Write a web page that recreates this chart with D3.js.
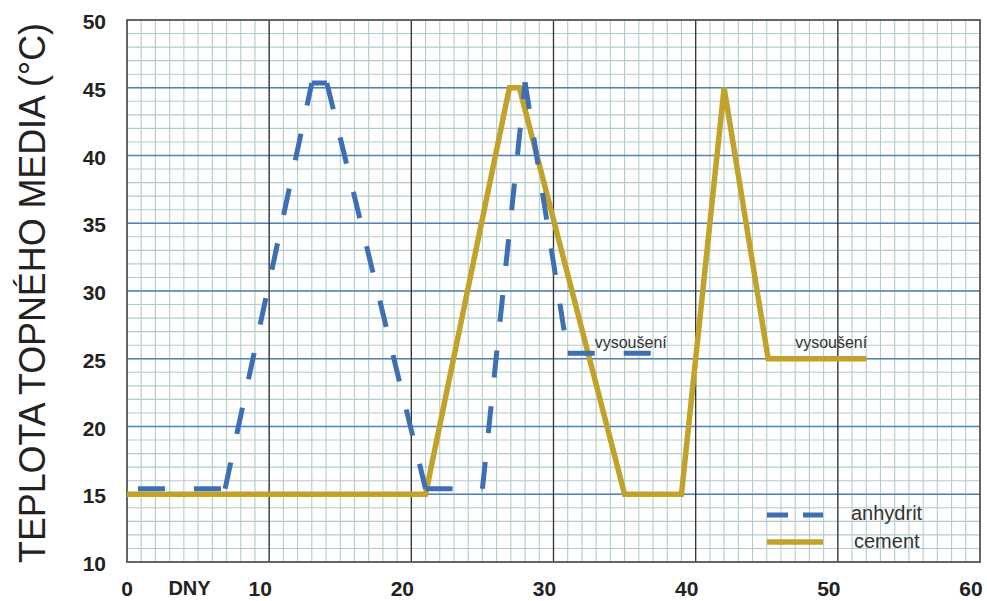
<!DOCTYPE html>
<html>
<head>
<meta charset="utf-8">
<script src="https://cdn.jsdelivr.net/npm/d3@7"></script>
<style>
  html, body { margin: 0; padding: 0; background: #fff; }
  svg { display: block; font-family: "Liberation Sans", Arial, sans-serif; }
</style>
</head>
<body>
<svg id="chart" width="987" height="601"></svg>
<script>
(function () {
    'use strict';

    // data
    var xTicks = [0, 10, 20, 30, 40, 50, 60],
        yTicks = [10, 15, 20, 25, 30, 35, 40, 45, 50],
        cementDays = [0, 21, 26.9, 27.6, 35, 39, 42, 45.1, 52],
        cementTemp = [15, 15, 45, 45, 15, 15, 45, 25, 25],
        anhydritDays = [0.77, 6.9, 13.0, 14.06, 21.0, 25.0, 28.0, 31.0, 37.1],
        anhydritTemp = [15.4, 15.4, 45.35, 45.35, 15.4, 15.4, 45.4, 25.4, 25.4],
        notes = [{day: 32.9, temp: 25.8, text: 'vysoušení'}, {day: 47.0, temp: 25.8, text: 'vysoušení'}],
        legendItems = ['anhydrit', 'cement'];

    var blue = '#3f6fb3', gold = '#c1a22a';

    var x = d3.scaleLinear().domain([0, 60]).range([127, 980]),
        y = d3.scaleLinear().domain([10, 50]).range([562, 20]);

    var svg = d3.select('#chart');

    // minor grid
    var grid = svg.append('g');
    grid.selectAll('line.mv').data(d3.range(1, 60)).enter().append('line')
        .attr('x1', function (d) { return x(d); }).attr('x2', function (d) { return x(d); })
        .attr('y1', y(10)).attr('y2', y(50))
        .attr('stroke', '#b2cccc').attr('stroke-width', 1.1);
    grid.selectAll('line.mh').data(d3.range(11, 50)).enter().append('line')
        .attr('y1', function (d) { return y(d); }).attr('y2', function (d) { return y(d); })
        .attr('x1', x(0)).attr('x2', x(60))
        .attr('stroke', '#b2cccc').attr('stroke-width', 1.1);

    // major grid
    grid.selectAll('line.Mh').data(d3.range(15, 50, 5)).enter().append('line')
        .attr('y1', function (d) { return y(d); }).attr('y2', function (d) { return y(d); })
        .attr('x1', x(0)).attr('x2', x(60))
        .attr('stroke', '#4f82b8').attr('stroke-width', 1.3);
    grid.selectAll('line.Mv').data(d3.range(10, 60, 10)).enter().append('line')
        .attr('x1', function (d) { return x(d); }).attr('x2', function (d) { return x(d); })
        .attr('y1', y(10)).attr('y2', y(50))
        .attr('stroke', '#333').attr('stroke-width', 1.3);

    svg.append('rect')
        .attr('x', x(0)).attr('y', y(50))
        .attr('width', x(60) - x(0)).attr('height', y(10) - y(50))
        .attr('fill', 'none').attr('stroke', '#555').attr('stroke-width', 1.8);

    // cement - solid line
    var cement = cementDays.map(function (d, i) { return [d, cementTemp[i]]; });
    svg.append('path')
        .attr('d', d3.line().x(function (d) { return x(d[0]); }).y(function (d) { return y(d[1]); })(cement))
        .attr('fill', 'none').attr('stroke', gold).attr('stroke-width', 5.5)
        .attr('stroke-linejoin', 'miter');

    // anhydrit - dash pattern restarts at every corner
    var segs = d3.range(anhydritDays.length - 1);
    svg.append('g').selectAll('line').data(segs).enter().append('line')
        .attr('x1', function (i) { return x(anhydritDays[i]); })
        .attr('y1', function (i) { return y(anhydritTemp[i]); })
        .attr('x2', function (i) { return x(anhydritDays[i + 1]); })
        .attr('y2', function (i) { return y(anhydritTemp[i + 1]); })
        .attr('stroke', blue).attr('stroke-width', 5)
        .attr('stroke-dasharray', '27 29');

    // notes
    svg.selectAll('text.note').data(notes).enter().append('text')
        .attr('x', function (d) { return x(d.day); })
        .attr('y', function (d) { return y(d.temp); })
        .attr('font-size', 16).attr('fill', '#333')
        .text(function (d) { return d.text; });

    // legend
    var lg = svg.append('g');
    lg.append('line').attr('x1', 767).attr('x2', 823).attr('y1', 515).attr('y2', 515)
        .attr('stroke', blue).attr('stroke-width', 5).attr('stroke-dasharray', '21 15');
    lg.append('line').attr('x1', 767).attr('x2', 823).attr('y1', 542).attr('y2', 542)
        .attr('stroke', gold).attr('stroke-width', 5.5);
    lg.selectAll('text').data(legendItems).enter().append('text')
        .attr('x', function (d, i) { return i ? 854 : 851; })
        .attr('y', function (d, i) { return 520 + i * 28; })
        .attr('font-size', 20).attr('fill', '#333')
        .text(function (d) { return d; });

    // tick labels
    svg.selectAll('text.yt').data(yTicks).enter().append('text')
        .attr('x', 106).attr('y', function (d) { return y(d) + 9; })
        .attr('text-anchor', 'end').attr('font-size', 21).attr('font-weight', 'bold').attr('fill', '#222')
        .text(function (d) { return d; });
    svg.selectAll('text.xt').data(xTicks).enter().append('text')
        .attr('x', function (d) { return d ? x(d) - 9 : x(d); }).attr('y', 596)
        .attr('text-anchor', 'middle').attr('font-size', 21).attr('font-weight', 'bold').attr('fill', '#222')
        .text(function (d) { return d; });
    svg.append('text')
        .attr('x', x(4.4)).attr('y', 595)
        .attr('text-anchor', 'middle').attr('font-size', 20).attr('font-weight', 'bold').attr('fill', '#222')
        .text('DNY');

    // y title
    svg.append('text')
        .attr('transform', 'translate(45,293) rotate(-90)')
        .attr('text-anchor', 'middle').attr('font-size', 36).attr('fill', '#222')
        .attr('textLength', 540).attr('lengthAdjust', 'spacingAndGlyphs')
        .text('TEPLOTA TOPNÉHO MEDIA (°C)');
}());
</script>
</body>
</html>
